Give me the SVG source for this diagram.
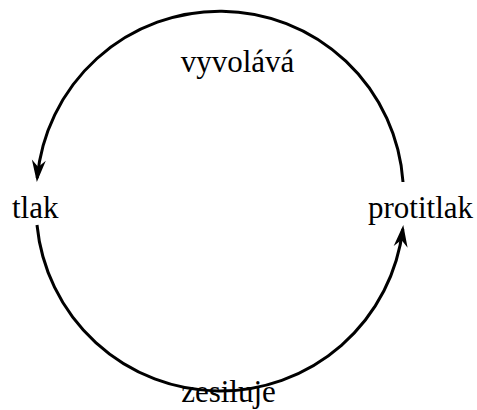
<svg xmlns="http://www.w3.org/2000/svg" width="477" height="410" viewBox="0 0 477 410">
<style>
.lbl{font-family:"Liberation Serif","Times New Roman",serif;font-size:31px;fill:#000}
.edge{fill:none;stroke:#000;stroke-width:3}
</style>
<defs>
<marker id="arr" markerUnits="userSpaceOnUse" markerWidth="40" markerHeight="40" viewBox="-25 -20 40 40" refX="0" refY="0" orient="auto" overflow="visible">
<path d="M4,0 L-18,-7 L-11,0 L-18,7 Z" fill="#000"/>
</marker>
</defs>
<rect width="477" height="410" fill="#fff"/>
<g id="connectors">
<path id="e-top" class="edge" d="M 403,182 A 183.5 183.5 0 0 0 37.2,178" marker-end="url(#arr)"/>
<path id="e-bottom" class="edge" d="M 37,225 A 184 184 0 0 0 402.8,229" marker-end="url(#arr)"/>
</g>
<g id="node-tlak"><text class="lbl" x="12" y="218">tlak</text></g>
<g id="node-protitlak"><text class="lbl" x="368" y="218">protitlak</text></g>
<g id="label-vyvolava"><text class="lbl" x="237.5" y="72" text-anchor="middle">vyvolává</text></g>
<g id="label-zesiluje"><text class="lbl" x="228.5" y="402" text-anchor="middle">zesiluje</text></g>
</svg>
